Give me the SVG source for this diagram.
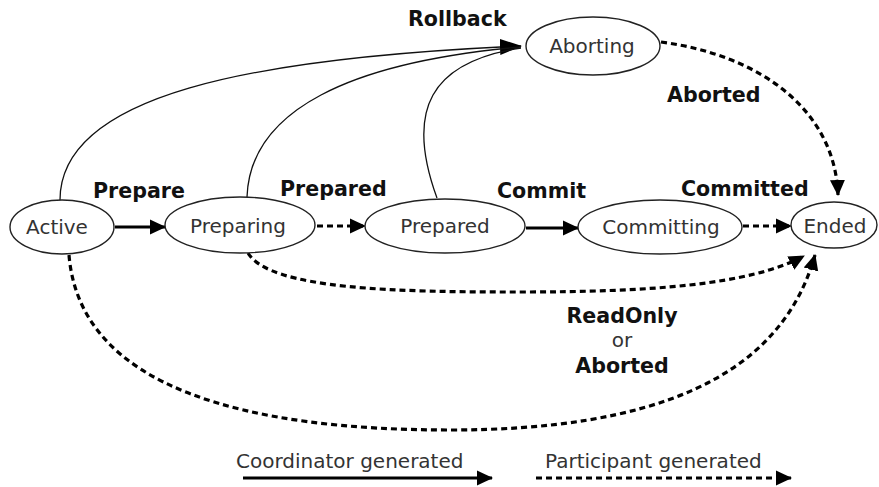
<svg xmlns="http://www.w3.org/2000/svg" width="879" height="487" viewBox="0 0 879 487">
<style>
.node ellipse{fill:#fff;stroke:#222;stroke-width:1.4}
.node text{font-family:"DejaVu Sans",Verdana,sans-serif;font-size:20px;fill:#333;text-anchor:middle}
.lbl{font-family:"DejaVu Sans",Verdana,sans-serif;font-size:20.6px;font-weight:bold;fill:#111}
.leg{font-family:"DejaVu Sans",Verdana,sans-serif;font-size:20px;fill:#333}
.thin{fill:none;stroke:#111;stroke-width:1.3}
.solid{fill:none;stroke:#000;stroke-width:3.2}
.dash{fill:none;stroke:#000;stroke-width:3.2;stroke-dasharray:6 4}
</style>
<defs>
<marker id="ah" markerUnits="userSpaceOnUse" markerWidth="16" markerHeight="16" viewBox="0 0 16 16" refX="15" refY="8" orient="auto">
<path d="M0,0.5 L16,8 L0,15.5 Z" fill="#000"/>
</marker>
<marker id="ahs" markerUnits="userSpaceOnUse" markerWidth="22" markerHeight="18" viewBox="0 0 22 18" refX="21" refY="9" orient="auto">
<path d="M0,1 L22,9 L0,17 Z" fill="#000"/>
</marker>
</defs>
<g id="connectors">
<path class="thin" d="M60,200 C60,95 250,58 521,46" marker-end="url(#ahs)"/>
<path class="thin" d="M247,197 C250,110 350,62 521,47"/>
<path class="thin" d="M437,198 C405,110 430,62 521,48"/>
<line class="solid" x1="115" y1="227" x2="165" y2="227" marker-end="url(#ah)"/>
<line class="dash" x1="317" y1="226" x2="365" y2="226" marker-end="url(#ah)"/>
<line class="solid" x1="526" y1="228" x2="578" y2="228" marker-end="url(#ah)"/>
<line class="dash" x1="743" y1="226" x2="791" y2="226" marker-end="url(#ah)"/>
<path class="dash" d="M661,42 C760,55 835,110 838,195" marker-end="url(#ah)"/>
<path class="dash" d="M248,253 C270,290 400,292 520,292 C650,292 750,285 804,256" marker-end="url(#ah)"/>
<path class="dash" d="M69,255 C80,390 250,430 450,430 C650,430 780,380 815,255" marker-end="url(#ah)"/>
<line class="solid" x1="243" y1="478" x2="492" y2="478" marker-end="url(#ah)"/>
<line class="dash" x1="536" y1="478" x2="791" y2="478" marker-end="url(#ah)"/>
</g>
<g id="n-active" class="node"><ellipse cx="62" cy="227" rx="52" ry="27"/><text x="57" y="234">Active</text></g>
<g id="n-preparing" class="node"><ellipse cx="240" cy="225" rx="75" ry="28"/><text x="238" y="233">Preparing</text></g>
<g id="n-prepared" class="node"><ellipse cx="445" cy="226" rx="80" ry="27"/><text x="445" y="233">Prepared</text></g>
<g id="n-committing" class="node"><ellipse cx="660" cy="227" rx="82" ry="27"/><text x="661" y="234">Committing</text></g>
<g id="n-ended" class="node"><ellipse cx="834" cy="225" rx="43" ry="23"/><text x="835" y="233">Ended</text></g>
<g id="n-aborting" class="node"><ellipse cx="593" cy="46" rx="67" ry="29"/><text x="592" y="53">Aborting</text></g>
<g id="labels">
<text class="lbl" x="408" y="26">Rollback</text>
<text class="lbl" x="93" y="198">Prepare</text>
<text class="lbl" x="280" y="196">Prepared</text>
<text class="lbl" x="497" y="198">Commit</text>
<text class="lbl" x="681" y="196">Committed</text>
<text class="lbl" x="667" y="102">Aborted</text>
<text class="lbl" x="622" y="323" text-anchor="middle">ReadOnly</text>
<text class="leg" x="622" y="347" text-anchor="middle">or</text>
<text class="lbl" x="622" y="373" text-anchor="middle">Aborted</text>
<text class="leg" x="236" y="468">Coordinator generated</text>
<text class="leg" x="545" y="468">Participant generated</text>
</g>
</svg>
